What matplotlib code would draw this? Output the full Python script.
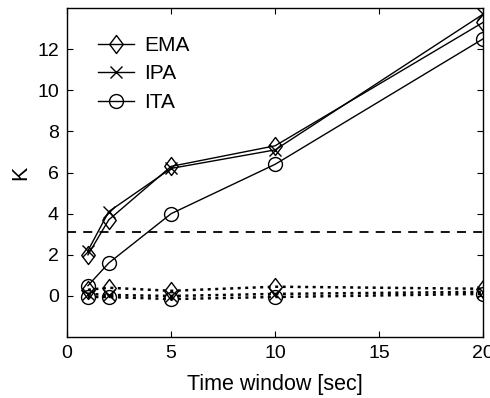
import matplotlib
matplotlib.use("Agg")
import matplotlib.pyplot as plt
from matplotlib.path import Path

plt.rcParams['font.family'] = ['Liberation Sans', 'DejaVu Sans']

x = [1, 2, 5, 10, 20]
ema = [2.0, 3.7, 6.3, 7.3, 13.3]
ipa = [2.2, 4.1, 6.2, 7.1, 13.7]
ita = [0.5, 1.6, 4.0, 6.4, 12.5]
ema_null = [0.3, 0.4, 0.25, 0.45, 0.35]
ipa_null = [0.1, 0.05, 0.0, 0.1, 0.2]
ita_null = [-0.05, -0.05, -0.15, -0.05, 0.1]
threshold = 3.1
labels = ['EMA', 'IPA', 'ITA']

diamond = Path([(0, 1), (0.75, 0), (0, -1), (-0.75, 0), (0, 1)],
               [Path.MOVETO, Path.LINETO, Path.LINETO, Path.LINETO, Path.CLOSEPOLY])

fig = plt.figure(figsize=(4.9, 3.98), dpi=100)
ax = fig.add_axes([0.137, 0.153, 0.849, 0.827])

kw = dict(color='black', lw=1.0, markerfacecolor='none', markeredgewidth=1.0)
ax.plot(x, ema, marker=diamond, ms=13, ls='-', label=labels[0], **kw)
ax.plot(x, ipa, marker='x', ms=9, ls='-', label=labels[1], **kw)
ax.plot(x, ita, marker='o', ms=10, ls='-', label=labels[2], **kw)
kw2 = dict(kw, lw=1.8)
dot = (0, (1.2, 1.8))
ax.plot(x, ema_null, marker=diamond, ms=13, ls=dot, **kw2)
ax.plot(x, ipa_null, marker='x', ms=9, ls=dot, **kw2)
ax.plot(x, ita_null, marker='o', ms=10, ls=dot, **kw2)
ax.axhline(threshold, color='black', ls=(0, (5, 4)), lw=1.3)

ax.set_xlim(0, 20)
ax.set_ylim(-2, 14)
ax.set_xticks([0, 5, 10, 15, 20])
ax.set_yticks([0, 2, 4, 6, 8, 10, 12])
ax.tick_params(direction='in', top=True, right=True, labelsize=14, length=4, pad=6)
ax.set_xlabel('Time window [sec]', fontsize=15.5, labelpad=8)
ax.set_ylabel('K', fontsize=15.5, labelpad=4)
for s in ax.spines.values():
    s.set_linewidth(1.0)
ax.legend(loc='upper left', frameon=False, fontsize=15, handlelength=1.7,
          handletextpad=0.5, bbox_to_anchor=(0.055, 0.94), labelspacing=0.45,
          borderaxespad=0)

fig.savefig('out.png', dpi=100)
